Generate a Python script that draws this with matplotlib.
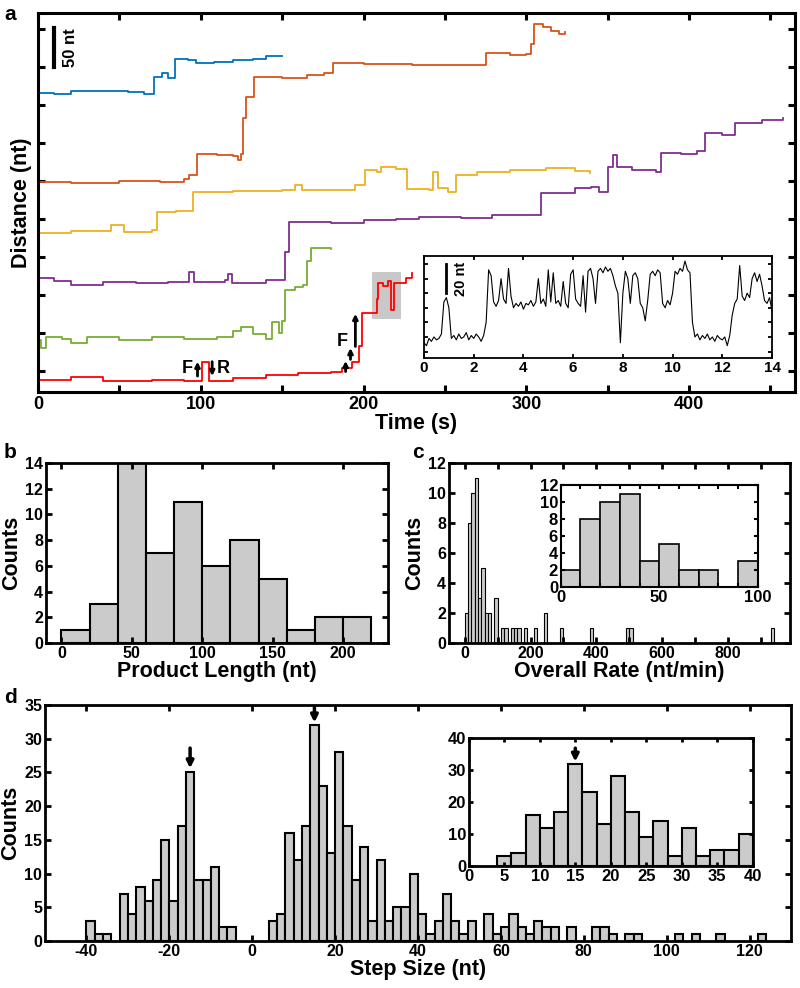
import numpy as np
import matplotlib.pyplot as plt
from matplotlib.ticker import MultipleLocator
from matplotlib.patches import Rectangle

plt.rcParams['font.family'] = ['Liberation Sans', 'DejaVu Sans']
plt.rcParams['font.weight'] = 'bold'
plt.rcParams['axes.labelweight'] = 'bold'
plt.rcParams['axes.unicode_minus'] = False

## Data
# panel a: step traces (time in s, distance in nt)
blue_t = [0, 10, 20, 35, 55, 65, 71, 76, 80, 84, 92, 97, 108, 120, 132, 140, 150]
blue_y = [366, 364, 369, 368, 367, 364, 387, 392, 386, 410, 409, 405, 406, 409, 410, 414, 415]

orange_t = [0, 20, 50, 75, 90, 93, 98, 110, 120, 123, 125, 126, 128, 133, 150, 165, 176, 181,
            200, 230, 260, 275, 290, 300, 303, 305, 310, 315, 320, 324]
orange_y = [249, 247, 250, 248, 252, 258, 286, 284, 283, 278, 286, 333, 361, 387, 386, 389, 392, 405,
            404, 402, 403, 418, 416, 417, 430, 457, 452, 447, 443, 446]

yellow_t = [0, 20, 45, 53, 70, 73, 85, 95, 120, 150, 158, 162, 185, 195, 201, 208, 211, 220,
            227, 240, 243, 246, 252, 257, 270, 290, 312, 330, 339]
yellow_y = [182, 184, 192, 183, 185, 209, 210, 236, 237, 238, 245, 238, 238, 245, 264, 262, 268, 266,
            239, 238, 262, 240, 236, 258, 262, 264, 267, 263, 261]

purple_t = [0, 10, 20, 40, 60, 80, 93, 96, 115, 117, 119, 140, 151, 152, 154, 180, 200, 220, 234,
            260, 279, 309, 330, 340, 345, 350, 353, 356, 365, 380, 383, 395, 405, 410, 420, 428,
            445, 458]
purple_y = [122, 118, 113, 117, 115, 117, 130, 117, 119, 127, 116, 119, 119, 157, 196, 195, 198, 200, 203,
            201, 205, 234, 240, 242, 236, 268, 284, 268, 264, 262, 287, 285, 290, 313, 311, 326,
            330, 333]

green_t = [0, 2, 5, 15, 20, 30, 50, 70, 90, 110, 120, 125, 132, 140, 144, 148, 150, 152, 158,
           163, 165, 168, 180]
green_y = [41, 30, 45, 42, 36, 44, 40, 44, 42, 44, 52, 58, 48, 42, 64, 50, 66, 107, 110,
           113, 144, 162, 160]

red_t = [0, 20, 40, 70, 90, 101, 105, 120, 140, 160, 180, 187, 193, 197, 199, 208, 209, 212,
         215, 217, 219, 222, 226, 230]
red_y = [-12, -8, -13, -12, -14, 12, -13, -10, -6, -3, -2, 4, 11, 32, 76, 95, 116, 112,
         118, 80, 115, 116, 122, 129]

# panel a inset: zoomed trace, every 0.1 s from 0 to 14 s
inset_t = [i / 10 for i in range(141)]
inset_y = [6, 4, 9, 7, 10, 8, 9, 12, 34, 37, 30, 9, 11, 8, 12, 9, 10, 13, 8, 11,
           9, 12, 10, 7, 11, 20, 56, 52, 34, 31, 35, 50, 36, 33, 57, 38, 30, 33, 31, 34,
           29, 33, 32, 35, 31, 34, 50, 33, 36, 31, 56, 34, 54, 33, 35, 31, 48, 33, 30, 53,
           56, 36, 33, 31, 52, 27, 55, 57, 50, 33, 55, 57, 54, 58, 55, 57, 52, 45, 40, 6,
           40, 55, 50, 33, 52, 54, 50, 33, 30, 21, 35, 53, 55, 52, 56, 54, 33, 30, 35, 32,
           40, 55, 53, 57, 55, 62, 56, 54, 20, 10, 12, 8, 11, 9, 12, 8, 10, 7, 11, 9,
           8, 10, 4, 11, 25, 33, 36, 59, 38, 35, 40, 37, 50, 54, 48, 53, 45, 35, 33, 37, 28]

# panel b: product length histogram
length_edges = [0, 20, 40, 60, 80, 100, 120, 140, 160, 180, 200]
length_counts = [1, 3, 14, 7, 11, 6, 8, 5, 1, 2, 2]

# panel c: overall rate histogram (bin width 10)
rate_edges = [0, 10, 20, 30, 40, 50, 60, 70, 80, 90, 110, 120, 140, 150, 160, 180, 210,
              240, 290, 380, 490, 500, 930]
rate_counts = [2, 8, 10, 11, 3, 5, 2, 2, 0, 3, 1, 1, 1, 1, 1, 1, 1,
               2, 1, 1, 1, 1, 1]

# panel d: step size histogram (bin width 2)
step_edges = [-40, -38, -36, -32, -30, -28, -26, -24, -22, -20, -18, -16, -14, -12, -10, -8, -6,
              4, 6, 8, 10, 12, 14, 16, 18, 20, 22, 24, 26, 28, 30, 32, 34, 36, 38,
              40, 42, 44, 46, 48, 50, 52, 56, 58, 60, 62, 64, 66, 68, 70, 72, 76,
              82, 84, 86, 90, 92, 102, 106, 112, 122]
step_counts = [3, 1, 1, 7, 4, 8, 6, 9, 15, 6, 17, 25, 9, 9, 11, 2, 2,
               3, 4, 16, 12, 17, 32, 23, 13, 28, 17, 9, 14, 3, 12, 3, 5, 5, 10,
               4, 1, 3, 7, 3, 1, 3, 4, 1, 2, 4, 2, 1, 3, 2, 2, 2,
               2, 2, 1, 1, 1, 1, 1, 1, 1]

GREY = '#cbcbcb'
LABEL = 15.5


def style(ax, lw=2, size=11.5, length=4):
    for s in ax.spines.values():
        s.set_linewidth(lw)
    ax.tick_params(which='both', direction='in', top=True, right=True,
                   length=length, width=lw, labelsize=size, pad=2)


fig = plt.figure(figsize=(8, 9.88), dpi=100)

## Panel a
ax = fig.add_axes([0.0475, 0.6032, 0.946, 0.3836])
traces = [(blue_t, blue_y, '#0072BD'), (orange_t, orange_y, '#D95319'),
          (yellow_t, yellow_y, '#EDB120'), (purple_t, purple_y, '#7E2F8E'),
          (green_t, green_y, '#77AC30'), (red_t, red_y, '#FF0000')]
for t, y, c in traces:
    ax.plot(t, y, color=c, lw=1.3, drawstyle='steps-post')
ax.add_patch(Rectangle((205, 68), 18, 62, facecolor='#c8c8c8', edgecolor='none', zorder=0))
ax.set_xlim(0, 465)
ax.set_ylim(-28, 471)
ax.xaxis.set_major_locator(MultipleLocator(100))
ax.xaxis.set_minor_locator(MultipleLocator(50))
ax.yaxis.set_major_locator(MultipleLocator(50))
style(ax, lw=2.2, size=13, length=5)
ax.tick_params(labelleft=False, pad=3)
ax.set_xlabel('Time (s)', fontsize=LABEL, labelpad=0)
ax.set_ylabel('Distance (nt)', fontsize=LABEL, labelpad=4)
# scale bar
ax.plot([10, 10], [400, 451], color='k', lw=3)
ax.text(20, 426, '50 nt', rotation=90, ha='center', va='center', fontsize=12)
# F / R annotations
arrow = dict(arrowstyle='-|>', color='k', lw=2, mutation_scale=7, shrinkA=0, shrinkB=0)
ax.annotate('', xy=(98, 12), xytext=(98, -7), arrowprops=arrow)
ax.annotate('', xy=(107, -7), xytext=(107, 12), arrowprops=arrow)
ax.text(92, 3, 'F', ha='center', va='center', fontsize=13)
ax.text(114, 3, 'R', ha='center', va='center', fontsize=13)
ax.annotate('', xy=(189, 13), xytext=(189, -1), arrowprops=arrow)
ax.annotate('', xy=(192, 30), xytext=(192, 15), arrowprops=arrow)
ax.annotate('', xy=(195, 75), xytext=(195, 32), arrowprops=arrow)
ax.text(187, 38, 'F', ha='center', va='center', fontsize=13)

# inset a
axi = fig.add_axes([0.53, 0.6377, 0.435, 0.1032])
axi.plot(inset_t, inset_y, color='k', lw=0.8)
axi.set_xlim(0, 14)
axi.set_ylim(-4.4, 65.5)
axi.xaxis.set_major_locator(MultipleLocator(2))
axi.yaxis.set_major_locator(MultipleLocator(10))
style(axi, lw=1.3, size=11, length=3)
axi.tick_params(labelleft=False)
axi.plot([0.9, 0.9], [40, 60], color='k', lw=2)
axi.text(1.5, 50, '20 nt', rotation=90, ha='center', va='center', fontsize=10.5)

## Panel b
axb = fig.add_axes([0.0575, 0.3492, 0.4275, 0.1822])
axb.bar(length_edges, length_counts, width=20, align='edge', color=GREY, edgecolor='k', lw=1.5)
axb.set_xlim(-11, 232)
axb.set_ylim(0, 14)
axb.xaxis.set_major_locator(MultipleLocator(50))
axb.yaxis.set_major_locator(MultipleLocator(2))
style(axb)
axb.set_xlabel('Product Length (nt)', fontsize=LABEL, labelpad=0)
axb.set_ylabel('Counts', fontsize=LABEL, labelpad=2)

## Panel c
axc = fig.add_axes([0.561, 0.3492, 0.426, 0.1822])
axc.bar(rate_edges, rate_counts, width=10, align='edge', color=GREY, edgecolor='k', lw=0.8)
axc.set_xlim(-49, 988)
axc.set_ylim(0, 12)
axc.xaxis.set_major_locator(MultipleLocator(200))
axc.xaxis.set_minor_locator(MultipleLocator(100))
axc.yaxis.set_major_locator(MultipleLocator(2))
style(axc)
axc.set_xlabel('Overall Rate (nt/min)', fontsize=LABEL, labelpad=0)
axc.set_ylabel('Counts', fontsize=LABEL, labelpad=2)

axci = fig.add_axes([0.701, 0.4059, 0.246, 0.1032])
axci.bar(rate_edges[:10], rate_counts[:10], width=10, align='edge', color=GREY, edgecolor='k', lw=1.2)
axci.set_xlim(0, 100)
axci.set_ylim(0, 12)
axci.xaxis.set_major_locator(MultipleLocator(50))
axci.xaxis.set_minor_locator(MultipleLocator(10))
axci.yaxis.set_major_locator(MultipleLocator(2))
style(axci, lw=1.5, size=12, length=3)

## Panel d
axd = fig.add_axes([0.0563, 0.0476, 0.9325, 0.2389])
axd.bar(step_edges, step_counts, width=2, align='edge', color=GREY, edgecolor='k', lw=1.5)
axd.set_xlim(-50, 130)
axd.set_ylim(0, 35)
axd.xaxis.set_major_locator(MultipleLocator(20))
axd.yaxis.set_major_locator(MultipleLocator(5))
style(axd)
axd.set_xlabel('Step Size (nt)', fontsize=LABEL, labelpad=0)
axd.set_ylabel('Counts', fontsize=LABEL, labelpad=2)
darrow = dict(arrowstyle='-|>', color='k', lw=2.5, mutation_scale=10, shrinkA=0, shrinkB=0)
axd.annotate('', xy=(-15, 25.6), xytext=(-15, 28.6), arrowprops=darrow)
axd.annotate('', xy=(15, 32.4), xytext=(15, 34.6), arrowprops=darrow)

axdi = fig.add_axes([0.586, 0.1235, 0.355, 0.1296])
sel = [i for i, e in enumerate(step_edges) if 0 <= e < 40]
axdi.bar([step_edges[i] for i in sel], [step_counts[i] for i in sel], width=2, align='edge',
         color=GREY, edgecolor='k', lw=1.5)
axdi.set_xlim(0, 40)
axdi.set_ylim(0, 40)
axdi.xaxis.set_major_locator(MultipleLocator(5))
axdi.yaxis.set_major_locator(MultipleLocator(10))
style(axdi, lw=2, size=12, length=3)
axdi.annotate('', xy=(15, 32.6), xytext=(15, 36.8), arrowprops=darrow)

# panel letters
for lbl, x, y in [('a', 0.005, 0.995), ('b', 0.005, 0.552), ('c', 0.515, 0.552), ('d', 0.005, 0.304)]:
    fig.text(x, y, lbl, fontsize=15, fontweight='bold', va='top')

fig.savefig('out.png', dpi=100)
